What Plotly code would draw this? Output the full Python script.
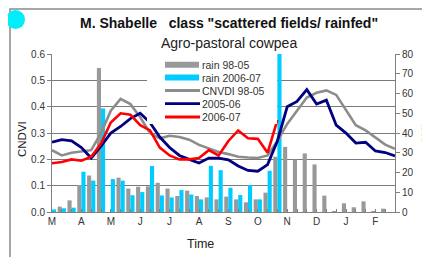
import plotly.graph_objects as go

# ---- data ----
months = ["M", "A", "M", "J", "J", "A", "S", "O", "N", "D", "J", "F"]
dekads = list(range(36))

rain_98_05 = [0, 2.7, 5.9, 13.7, 18.5, 73, 0, 17.4, 11.9, 12.8, 13.0, 14.8,
              11.9, 8.1, 10.8, 8.1, 7.4, 6.4, 7.8, 6.4, 4.9, 6.4, 9.8, 28,
              33, 26.6, 29.7, 24.1, 8.3, 0.5, 4.4, 2.4, 5.4, 0.5, 1.7, 0]
rain_2006_07 = [1.3, 1.9, 2.2, 20.4, 15.9, 52.5, 16.7, 15.9, 8.5, 10.1, 23.3, 8.4,
                7.4, 11.1, 8.9, 6.4, 23.4, 21.2, 12.3, 8.6, 13.7, 6.4, 20.9, 85]

cndvi_98_05 = [0.235, 0.215, 0.225, 0.23, 0.235, 0.3, 0.385, 0.43, 0.41, 0.36, 0.3, 0.28,
               0.29, 0.285, 0.275, 0.255, 0.24, 0.228, 0.22, 0.21, 0.207, 0.205, 0.215, 0.27,
               0.335, 0.385, 0.435, 0.453, 0.462, 0.445, 0.388, 0.33, 0.31, 0.284, 0.256, 0.24]
cndvi_2005_06 = [0.265, 0.275, 0.27, 0.245, 0.205, 0.25, 0.3, 0.325, 0.355, 0.375, 0.34, 0.285,
                 0.245, 0.215, 0.2, 0.186, 0.205, 0.205, 0.198, 0.175, 0.158, 0.155, 0.18, 0.27,
                 0.4, 0.42, 0.465, 0.41, 0.425, 0.33, 0.3, 0.262, 0.265, 0.232, 0.226, 0.213]
cndvi_2006_07 = [0.185, 0.19, 0.2, 0.195, 0.21, 0.26, 0.34, 0.375, 0.37, 0.33, 0.31, 0.245,
                 0.215, 0.2, 0.2, 0.205, 0.235, 0.215, 0.27, 0.31, 0.28, 0.278, 0.225, 0.35]

legend_names = ["rain 98-05", "rain 2006-07", "CNVDI 98-05", "2005-06", "2006-07"]

GRAY_BAR = "#999999"
GRAY_LINE = "#8c8c8c"
CYAN = "#00ccff"
NAVY = "#000080"
RED = "#ff0000"
AX = "#808080"
FONT = "Liberation Sans, Arial, sans-serif"

# page body has an 8px margin: the figure is drawn starting at (8, 8)
OFF = 8
W, H = 430, 257
# plot area in screen pixels
PL, PR, PT, PB = 52, 395, 54, 212


def px(x):
    return (x - PL) / (PR - PL)


def py(y):
    return (PB - y) / (PB - PT)


fig = go.Figure()
fig.add_trace(go.Bar(x=dekads, y=rain_98_05, marker=dict(color=GRAY_BAR, line=dict(width=0)),
                     showlegend=False, yaxis="y", xaxis="x"))
fig.add_trace(go.Bar(x=dekads[:len(rain_2006_07)], y=rain_2006_07,
                     marker=dict(color=CYAN, line=dict(width=0)),
                     showlegend=False, yaxis="y", xaxis="x"))
fig.add_trace(go.Scatter(x=dekads, y=cndvi_98_05, mode="lines", line=dict(color=GRAY_LINE, width=2.6),
                         showlegend=False, yaxis="y2"))
fig.add_trace(go.Scatter(x=dekads, y=cndvi_2005_06, mode="lines", line=dict(color=NAVY, width=2.8),
                         showlegend=False, yaxis="y2"))
fig.add_trace(go.Scatter(x=dekads[:len(cndvi_2006_07)], y=cndvi_2006_07, mode="lines",
                         line=dict(color=RED, width=2.6), showlegend=False, yaxis="y2"))

ticktext = [months[i // 3] if i % 3 == 0 else "" for i in dekads]

shapes = []
annotations = []

# outer border and cyan dot
shapes.append(dict(type="rect", xref="paper", yref="paper", x0=px(10), x1=px(445), y0=py(270), y1=py(9),
                   line=dict(color="#8a8a8a", width=1.5), fillcolor="rgba(0,0,0,0)", layer="below"))
shapes.append(dict(type="circle", xref="paper", yref="paper", x0=px(6), x1=px(25), y0=py(29), y1=py(10),
                   line=dict(width=0), fillcolor="#00eefc"))

# manual legend
shapes.append(dict(type="rect", xref="paper", yref="paper", x0=px(147), x1=px(277), y0=py(124), y1=py(55),
                   line=dict(width=0), fillcolor="white", layer="above"))
rows = [64.7, 77.5, 90.5, 103.7, 117]
sym = [("bar", GRAY_BAR), ("bar", CYAN), ("line", GRAY_LINE), ("line", NAVY), ("line", RED)]
for (kind, col), yy, name in zip(sym, rows, legend_names):
    if kind == "bar":
        shapes.append(dict(type="rect", xref="paper", yref="paper", x0=px(165), x1=px(199),
                           y0=py(yy + 3), y1=py(yy - 3), line=dict(width=0), fillcolor=col))
    else:
        shapes.append(dict(type="line", xref="paper", yref="paper", x0=px(165), x1=px(200),
                           y0=py(yy), y1=py(yy), line=dict(color=col, width=2.8)))
    annotations.append(dict(text=name, xref="paper", yref="paper", x=px(200), y=py(yy),
                            xanchor="left", yanchor="middle", showarrow=False,
                            font=dict(family=FONT, size=10.5, color="#333333")))

# titles
annotations.append(dict(text="M. Shabelle\u00a0\u00a0\u00a0class \"scattered fields/ rainfed\"",
                        xref="paper", yref="paper", x=px(229), y=py(23), xanchor="center", yanchor="middle",
                        showarrow=False, font=dict(family=FONT, size=14, color="#111111", weight="bold")))
annotations.append(dict(text="Agro-pastoral cowpea", xref="paper", yref="paper", x=px(229), y=py(43),
                        xanchor="center", yanchor="middle", showarrow=False,
                        font=dict(family=FONT, size=14, color="#222222")))
annotations.append(dict(text="CNDVI", xref="paper", yref="paper", x=px(22), y=py(139), textangle=-90,
                        xanchor="center", yanchor="middle", showarrow=False,
                        font=dict(family=FONT, size=11.5, color="#222222")))
annotations.append(dict(text="mm", xref="paper", yref="paper", x=px(424), y=py(133), textangle=-90,
                        xanchor="center", yanchor="middle", showarrow=False,
                        font=dict(family=FONT, size=11.5, color="#222222")))
annotations.append(dict(text="Time", xref="paper", yref="paper", x=px(200), y=py(244),
                        xanchor="center", yanchor="middle", showarrow=False,
                        font=dict(family=FONT, size=12.5, color="#222222")))

fig.update_layout(
    width=W, height=H, autosize=False,
    margin=dict(l=PL - OFF, r=W - (PR - OFF), t=PT - OFF, b=H - (PB - OFF), pad=0),
    paper_bgcolor="white", plot_bgcolor="white",
    barmode="group", bargap=0.16, bargroupgap=0,
    font=dict(family=FONT, size=10, color="#333333"),
    showlegend=False,
    xaxis=dict(range=[0, 35], tickmode="array", tickvals=dekads, ticktext=ticktext,
               ticks="inside", ticklen=3, tickcolor=AX, showline=True, linecolor=AX, linewidth=1,
               showgrid=False, zeroline=False, tickfont=dict(size=10, color="#333333")),
    yaxis=dict(range=[0, 80 * 0.6005 / 0.6], tickmode="linear", tick0=0, dtick=10, side="right",
               showgrid=False, zeroline=False, ticks="outside", ticklen=4, tickcolor=AX,
               showline=True, linecolor=AX, linewidth=1, tickfont=dict(size=10, color="#333333")),
    yaxis2=dict(range=[0, 0.6005], tickmode="linear", tick0=0, dtick=0.1, tickformat=".1f",
                overlaying="y", side="left", showgrid=True, gridcolor="#7a7a7a", gridwidth=1,
                zeroline=False, ticks="outside", ticklen=4, tickcolor=AX,
                showline=True, linecolor=AX, linewidth=1, tickfont=dict(size=10, color="#333333")),
    shapes=shapes,
    annotations=annotations,
)

fig.write_html("out.html")
